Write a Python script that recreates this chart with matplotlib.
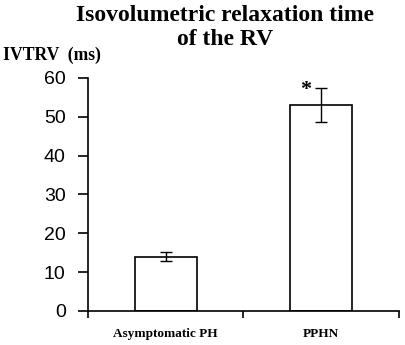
import numpy as np
import matplotlib
matplotlib.use('Agg')
import matplotlib.pyplot as plt

# data
groups = ['Asymptomatic PH', 'PPHN']
ivtrv_mean = [14.0, 53.0]
ivtrv_err = [1.2, 4.4]
significant = [False, True]

fig = plt.figure(figsize=(4.05, 3.45), dpi=100)
ax = fig.add_axes([0.217, 0.099, 0.768, 0.675])

x = np.arange(len(groups))
ax.bar(x, ivtrv_mean, width=0.4, color='white', edgecolor='black', linewidth=1.2, zorder=2)
ax.errorbar(x, ivtrv_mean, yerr=ivtrv_err, fmt='none', ecolor='black',
            elinewidth=1.0, capsize=4, capthick=1.0, zorder=3)

for i, sig in enumerate(significant):
    if sig:
        ax.text(x[i] - 0.1, ivtrv_mean[i] + ivtrv_err[i] - 0.5, '*', ha='center', va='center',
                fontsize=16, fontweight='bold', family='Liberation Serif')

ax.set_xlim(-0.5, len(groups) - 0.5)
ax.set_ylim(0, 60)
ax.set_yticks(range(0, 61, 10))
ax.tick_params(axis='y', labelsize=14, direction='out', length=7, width=1.2, pad=9)
for lab in ax.get_yticklabels():
    lab.set_family('Liberation Sans')

# category boundary ticks on x axis, labels at centres
ax.set_xticks(np.arange(-0.5, len(groups), 1.0))
ax.set_xticklabels([])
ax.tick_params(axis='x', direction='out', length=5, width=1.2)
for i, g in enumerate(groups):
    ax.text(x[i], -5.9, g, ha='center', va='center', fontsize=9.5,
            fontweight='bold', family='Liberation Serif')

for s in ['top', 'right']:
    ax.spines[s].set_visible(False)
for s in ['left', 'bottom']:
    ax.spines[s].set_linewidth(1.2)

fig.text(0.555, 0.92, 'Isovolumetric relaxation time\nof the RV', ha='center', va='center',
         fontsize=17, fontweight='bold', family='Liberation Serif', linespacing=1.15)
fig.text(0.008, 0.84, 'IVTRV  (ms)', ha='left', va='center', fontsize=12.7,
         fontweight='bold', family='Liberation Serif')

plt.savefig('out.png', dpi=100)
